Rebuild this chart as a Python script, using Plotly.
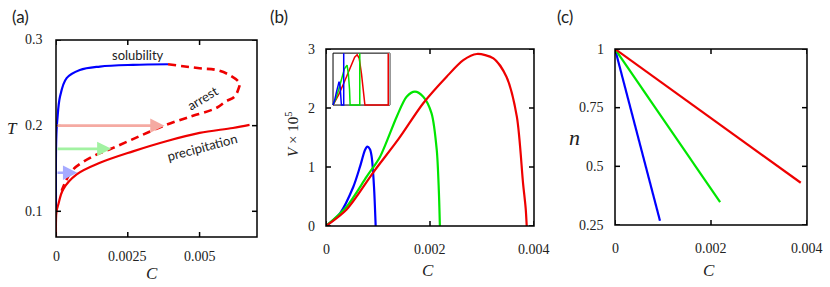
import plotly.graph_objects as go

# ---------------- data ----------------
# panel (a): phase diagram T vs C
sol_C = [0.0, 0.0, 0.00002, 0.000046, 0.00014, 0.00037, 0.00083, 0.00153, 0.00268, 0.0039]
sol_T = [0.10, 0.17, 0.195, 0.207, 0.234, 0.2555, 0.265, 0.269, 0.271, 0.2717]

arr_C = [0.0039, 0.0050, 0.00558, 0.00605, 0.00639, 0.00635, 0.00622, 0.0059, 0.00558, 0.00477,
         0.00454, 0.00384, 0.0029, 0.00199, 0.0013, 0.0006, 0.00031, 0.0002]
arr_T = [0.2717, 0.267, 0.265, 0.259, 0.2496, 0.2425, 0.234, 0.228, 0.2206, 0.2115,
         0.209, 0.201, 0.1876, 0.174, 0.1643, 0.149, 0.133, 0.124]

pre_C = [0.0, 0.0, 0.00002, 0.00008, 0.00025, 0.00072, 0.00153, 0.00268, 0.00384, 0.005, 0.00616, 0.00674]
pre_T = [0.07, 0.09, 0.1, 0.108, 0.1256, 0.143, 0.1566, 0.170, 0.1818, 0.1915, 0.1973, 0.201]

arrow_T = [0.2, 0.1729, 0.145]
arrow_C_end = [0.00378, 0.00193, 0.00074]
arrow_colors = ["#f5aaa2", "#a2f2a2", "#a6aaff"]

# panel (b): V x 1e5 vs C
vb_C = [0.0, 0.000269, 0.000526, 0.000654, 0.00075, 0.000795, 0.000845, 0.000878, 0.000923, 0.000955]
vb_V = [0.0, 0.215, 0.666, 1.005, 1.288, 1.344, 1.30, 1.175, 0.666, 0.0]
vg_C = [0.0, 0.000397, 0.000782, 0.00104, 0.00136, 0.00155, 0.00171, 0.00187, 0.00203, 0.00213, 0.00217, 0.00219]
vg_V = [0.0, 0.328, 0.836, 1.175, 1.853, 2.19, 2.277, 2.19, 1.91, 1.288, 0.6, 0.0]
vr_C = [0.0, 0.000397, 0.00091, 0.0014, 0.00187, 0.00232, 0.00264, 0.0029, 0.00322, 0.00347,
        0.00367, 0.00379, 0.00384, 0.00386]
vr_V = [0.0, 0.28, 0.91, 1.48, 2.08, 2.53, 2.81, 2.915, 2.84, 2.53, 1.853, 0.72, 0.3, 0.0]

# inset in (b): normalised time traces (0..1 inside the inset box)
ib_x = [0.0, 0.03, 0.06, 0.09, 0.106, 0.125, 0.14, 0.147, 0.188, 0.188]
ib_y = [0.0, 0.1, 0.25, 0.4, 0.45, 0.35, 0.15, 0.0, 0.0, 1.0]
ig_x = [0.0, 0.05, 0.1, 0.15, 0.2, 0.247, 0.27, 0.29, 0.30, 0.47, 0.47]
ig_y = [0.0, 0.12, 0.3, 0.5, 0.7, 0.77, 0.6, 0.3, 0.0, 0.0, 1.0]
ir_x = [0.0, 0.1, 0.2, 0.3, 0.38, 0.424, 0.46, 0.5, 0.54, 0.56, 0.97, 0.97]
ir_y = [0.0, 0.2, 0.45, 0.72, 0.92, 0.97, 0.9, 0.6, 0.2, 0.0, 0.0, 1.0]
igrey_x = [0.985, 0.985]
igrey_y = [0.0, 1.0]
inset_frame_x = [0.0, 1.0, 1.0, 0.0, 0.0]
inset_frame_y = [0.0, 0.0, 1.0, 1.0, 0.0]

# panel (c): n vs C
n_C_end = [0.000937, 0.00219, 0.00387]
n_end = [0.268, 0.347, 0.43]

# ticks and tick labels
a_xticks, a_xlabels = [0, 0.0025, 0.005], ["0", "0.0025", "0.005"]
a_yticks, a_ylabels = [0.1, 0.2, 0.3], ["0.1", "0.2", "0.3"]
b_xticks, b_xlabels = [0, 0.002, 0.004], ["0", "0.002", "0.004"]
b_yticks, b_ylabels = [0, 1, 2, 3], ["0", "1", "2", "3"]
c_xticks, c_xlabels = [0, 0.002, 0.004], ["0", "0.002", "0.004"]
c_yticks, c_ylabels = [0.25, 0.5, 0.75, 1], ["0.25", "0.5", "0.75", "1"]

BLUE, GREEN, RED = "#0000ff", "#00e600", "#ee0000"
W, H = 830, 287

# inset box placement inside panel (b), in panel (b) data units
INSET_C = (0.000135, 0.00123)
INSET_V = (2.05, 2.93)


def to_inset(xs, ys):
    return ([INSET_C[0] + v * (INSET_C[1] - INSET_C[0]) for v in xs],
            [INSET_V[0] + v * (INSET_V[1] - INSET_V[0]) for v in ys])


def dx(a, b):
    return [a / W, b / W]


def dy(top, bottom):
    return [1 - bottom / H, 1 - top / H]


fig = go.Figure()
LW = 2.2

# (a)
fig.add_trace(go.Scatter(x=sol_C, y=sol_T, mode="lines", line=dict(color=BLUE, width=LW, shape="spline"),
                         xaxis="x", yaxis="y"))
fig.add_trace(go.Scatter(x=pre_C, y=pre_T, mode="lines", line=dict(color=RED, width=LW, shape="spline"),
                         xaxis="x", yaxis="y"))
fig.add_trace(go.Scatter(x=arr_C, y=arr_T, mode="lines",
                         line=dict(color=RED, width=2.6, dash="8px,5px", shape="spline"),
                         xaxis="x", yaxis="y"))

# (b)
for cx, vy, col in [(vb_C, vb_V, BLUE), (vg_C, vg_V, GREEN), (vr_C, vr_V, RED)]:
    fig.add_trace(go.Scatter(x=cx, y=vy, mode="lines",
                             line=dict(color=col, width=LW, shape="spline", smoothing=0.8),
                             xaxis="x2", yaxis="y2"))

# inset drawn on top of panel (b)
fx, fy = to_inset(inset_frame_x, inset_frame_y)
fig.add_trace(go.Scatter(x=fx, y=fy, mode="lines", fill="toself", fillcolor="white",
                         line=dict(color="black", width=1), xaxis="x2", yaxis="y2"))
gx, gy = to_inset(igrey_x, igrey_y)
fig.add_trace(go.Scatter(x=gx, y=gy, mode="lines", line=dict(color="#b0b0b0", width=2.5),
                         xaxis="x2", yaxis="y2"))
for ix, iy, col in [(ir_x, ir_y, RED), (ig_x, ig_y, GREEN), (ib_x, ib_y, BLUE)]:
    px_, py_ = to_inset(ix, iy)
    fig.add_trace(go.Scatter(x=px_, y=py_, mode="lines", line=dict(color=col, width=1.5),
                             xaxis="x2", yaxis="y2"))

# (c)
for ce, ne, col in zip(n_C_end, n_end, [BLUE, GREEN, RED]):
    fig.add_trace(go.Scatter(x=[0, ce], y=[1, ne], mode="lines", line=dict(color=col, width=LW),
                             xaxis="x3", yaxis="y3"))

annotations = []
# arrows in (a)
for a, t, col in zip(arrow_C_end, arrow_T, arrow_colors):
    annotations.append(dict(x=a, y=t, ax=0, ay=t, xref="x", yref="y", axref="x", ayref="y",
                            showarrow=True, arrowhead=2, arrowsize=1.1, arrowwidth=2.6,
                            arrowcolor=col, text=""))

lab = dict(family="Lato", size=13, color="#222")
annotations += [
    dict(x=0.00285, y=0.2826, xref="x", yref="y", text="solubility", showarrow=False, font=lab),
    dict(x=0.0051, y=0.2326, xref="x", yref="y", text="arrest", showarrow=False, font=lab, textangle=-31),
    dict(x=0.0051, y=0.1756, xref="x", yref="y", text="precipitation", showarrow=False, font=lab,
         textangle=-15),
]

title_font = dict(family="Liberation Serif", size=17, color="#222")
panel_font = dict(family="Lato", size=17, color="#222")
pa = dict(xref="paper", yref="paper", showarrow=False, xanchor="center", yanchor="middle")
annotations += [
    dict(x=20 / W, y=1 - 17 / H, text="(a)", font=panel_font, **pa),
    dict(x=279 / W, y=1 - 17 / H, text="(b)", font=panel_font, **pa),
    dict(x=565 / W, y=1 - 17 / H, text="(c)", font=panel_font, **pa),
    dict(x=152 / W, y=1 - 273 / H, text="<i>C</i>", font=title_font, **pa),
    dict(x=428 / W, y=1 - 270 / H, text="<i>C</i>", font=title_font, **pa),
    dict(x=709 / W, y=1 - 270 / H, text="<i>C</i>", font=title_font, **pa),
    dict(x=12 / W, y=1 - 128 / H, text="<i>T</i>", font=title_font, **pa),
    dict(x=574 / W, y=1 - 137 / H, text="<i>n</i>",
         font=dict(family="Liberation Serif", size=22, color="#222"), **pa),
    dict(x=292 / W, y=1 - 135 / H, text="<i>V</i> × 10<sup>5</sup>", textangle=-90,
         font=dict(family="Liberation Serif", size=15, color="#222"), **pa),
]

# frames, inside ticks and tick labels (drawn as layout shapes / annotations)
tickfont = dict(family="Liberation Serif", size=14, color="#222")
shapes = []
panels = [
    ("x", "y", a_xticks, a_xlabels, a_yticks, a_ylabels, -10, -11),
    ("x2", "y2", b_xticks, b_xlabels, b_yticks, b_ylabels, -14, -9),
    ("x3", "y3", c_xticks, c_xlabels, c_yticks, c_ylabels, -14, -9),
]
TL = 5
for xr, yr, xt, xl, yt, yl, xshift_lab, yshift_lab in panels:
    shapes.append(dict(type="rect", xref=f"{xr} domain", yref=f"{yr} domain", x0=0, x1=1, y0=0, y1=1,
                       line=dict(color="black", width=1.5), layer="above"))
    for v, t in zip(xt, xl):
        shapes.append(dict(type="line", xref=xr, x0=v, x1=v, yref=f"{yr} domain", ysizemode="pixel",
                           yanchor=0, y0=0, y1=TL, line=dict(color="black", width=1.5), layer="above"))
        shapes.append(dict(type="line", xref=xr, x0=v, x1=v, yref=f"{yr} domain", ysizemode="pixel",
                           yanchor=1, y0=0, y1=-TL, line=dict(color="black", width=1.5), layer="above"))
        annotations.append(dict(x=v, xref=xr, y=0, yref=f"{yr} domain", text=t, showarrow=False,
                                xanchor="center", yanchor="top", yshift=xshift_lab, font=tickfont))
    for v, t in zip(yt, yl):
        shapes.append(dict(type="line", yref=yr, y0=v, y1=v, xref=f"{xr} domain", xsizemode="pixel",
                           xanchor=0, x0=0, x1=TL, line=dict(color="black", width=1.5), layer="above"))
        shapes.append(dict(type="line", yref=yr, y0=v, y1=v, xref=f"{xr} domain", xsizemode="pixel",
                           xanchor=1, x0=0, x1=-TL, line=dict(color="black", width=1.5), layer="above"))
        annotations.append(dict(x=0, xref=f"{xr} domain", y=v, yref=yr, text=t, showarrow=False,
                                xanchor="right", yanchor="middle", xshift=yshift_lab, font=tickfont))


def ax(domain, rng, anchor):
    return dict(domain=domain, range=rng, anchor=anchor, showline=False, ticks="",
                showticklabels=False, showgrid=False, zeroline=False, fixedrange=True)


fig.update_layout(
    width=W, height=H, margin=dict(l=0, r=0, t=0, b=0),
    plot_bgcolor="white", paper_bgcolor="white", showlegend=False,
    xaxis=ax(dx(56, 257), [0, 0.007], "y"),
    yaxis=ax(dy(40, 237), [0.07, 0.3], "x"),
    xaxis2=ax(dx(326, 534), [0, 0.004], "y2"),
    yaxis2=ax(dy(49, 226), [0, 3], "x2"),
    xaxis3=ax(dx(615, 807), [0, 0.004], "y3"),
    yaxis3=ax(dy(49, 225), [0.25, 1], "x3"),
    annotations=annotations,
    shapes=shapes,
)

fig.write_html(
    "out.html", config={"displayModeBar": False},
    post_script="document.body.style.margin='0px';document.body.style.overflow='hidden';"
                "document.documentElement.style.overflow='hidden';")
